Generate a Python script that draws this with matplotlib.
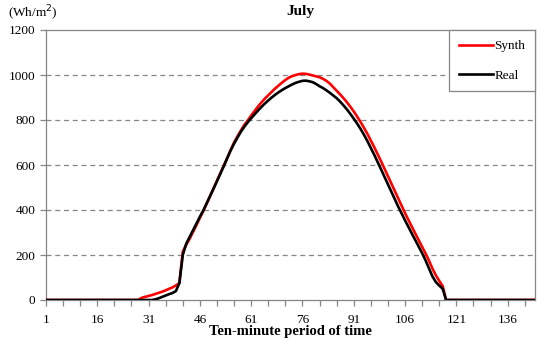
import matplotlib
matplotlib.use("Agg")
import matplotlib.pyplot as plt

periods = list(range(1, 145))

synth_nonzero_start = 29
synth_values = [10, 14, 18, 22, 27, 32, 37, 43, 50, 56, 65, 75,          # 29-40
                215, 245, 272, 302, 333, 365, 395, 428, 462, 496,        # 41-50
                530, 563, 598, 632, 667, 700, 728, 754, 778, 798,        # 51-60
                820, 840, 860, 878, 895, 910, 925, 940, 953, 966,        # 61-70
                978, 988, 995, 1000, 1004, 1006, 1005, 1002, 998, 994,   # 71-80
                990, 983, 974, 962, 946, 930, 914, 897, 879, 859,        # 81-90
                838, 815, 791, 765, 738, 709, 679, 648, 616, 583,        # 91-100
                550, 517, 484, 451, 418, 386, 355, 325, 295, 265,        # 101-110
                236, 207, 175, 140, 110, 85, 62]                         # 111-117

real_nonzero_start = 33
real_values = [3, 8, 14, 20, 26, 31, 40, 75,                             # 33-40
               200, 250, 280, 310, 340, 370, 398, 430, 462, 495,         # 41-50
               528, 560, 595, 630, 665, 695, 722, 748, 770, 790,         # 51-60
               808, 825, 842, 858, 873, 887, 900, 912, 923, 933,         # 61-70
               942, 950, 958, 965, 970, 974, 975, 972, 968, 960,         # 71-80
               950, 942, 932, 921, 909, 897, 882, 865, 847, 827,         # 81-90
               806, 784, 760, 734, 706, 676, 645, 613, 580, 547,         # 91-100
               514, 481, 448, 415, 384, 354, 324, 295, 266, 237,         # 101-110
               208, 176, 140, 105, 80, 64, 50]                           # 111-117


def full_series(start, vals):
    s = [0.0] * len(periods)
    for k, v in enumerate(vals):
        s[start - 1 + k] = v
    return s


synth = full_series(synth_nonzero_start, synth_values)
real = full_series(real_nonzero_start, real_values)

xticks = list(range(1, 145, 15))
yticks = [0, 200, 400, 600, 800, 1000, 1200]

plt.rcParams['font.family'] = ['Liberation Serif', 'DejaVu Serif']

fig = plt.figure(figsize=(5.5, 3.42), dpi=100)
ax = fig.add_axes([46 / 550, 1 - 300 / 342, (535 - 46) / 550, (300 - 30) / 342])

grey = '#868686'
for y in yticks[1:-1]:
    ax.axhline(y, color=grey, lw=0.9, ls=(0, (4, 3)), zorder=1)

ax.plot(periods, synth, color='#ff0000', lw=1.9, label='Synth', zorder=3)
ax.plot(periods, real, color='black', lw=1.9, label='Real', zorder=4)

ax.set_xlim(1, 144)
ax.set_ylim(0, 1200)
ax.set_xticks(xticks)
ax.set_xticks(list(range(1, 145, 5)), minor=True)
ax.set_yticks(yticks)
ax.tick_params(axis='both', labelsize=9.5, color=grey, direction='out', length=4, width=0.9)
ax.tick_params(axis='x', which='minor', color=grey, direction='out', length=4, width=0.9)
ax.tick_params(axis='x', pad=6)
for sp in ax.spines.values():
    sp.set_color(grey)
    sp.set_linewidth(0.9)

ax.set_xlabel('Ten-minute period of time', fontsize=10.5, fontweight='bold', labelpad=-1)
fig.text(300 / 550, 1 - 12 / 342, 'July', ha='center', va='center', fontsize=11, fontweight='bold')
fig.text(8 / 550, 1 - 13 / 342, '(Wh/m$^2$)', ha='left', va='center', fontsize=9.5)

leg = ax.legend(loc='upper right', bbox_to_anchor=(1, 1), borderaxespad=0, fancybox=False,
                edgecolor=grey, fontsize=9.5, handlelength=2.6, handletextpad=0.1,
                labelspacing=1.3, borderpad=0.75, framealpha=1)
leg.get_frame().set_linewidth(0.9)

fig.savefig('out.png', dpi=100)
